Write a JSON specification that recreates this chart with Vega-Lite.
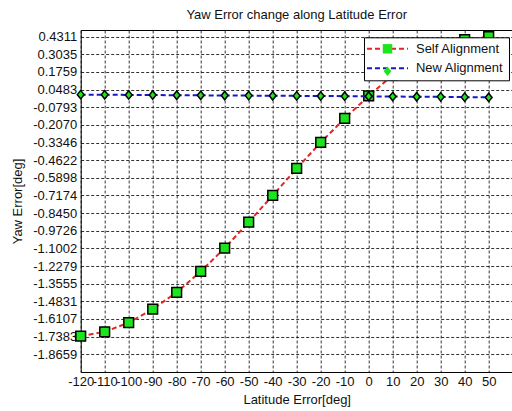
{
  "$schema": "https://vega.github.io/schema/vega-lite/v6.json",
  "width": 432,
  "height": 342,
  "autosize": {"type": "none"},
  "padding": {"left": 80.7, "top": 30, "right": 0, "bottom": 39},
  "background": "white",
  "title": {"text": "Yaw Error change along Latitude Error", "anchor": "middle", "frame": "group", "offset": 7, "fontSize": 13, "fontWeight": "normal", "font": "Liberation Sans", "color": "#111"},
  "data": {"values": [
    {"lat": -120, "yaw": -1.735, "series": "Self Alignment"},
    {"lat": -110, "yaw": -1.703, "series": "Self Alignment"},
    {"lat": -100, "yaw": -1.637, "series": "Self Alignment"},
    {"lat": -90, "yaw": -1.540, "series": "Self Alignment"},
    {"lat": -80, "yaw": -1.418, "series": "Self Alignment"},
    {"lat": -70, "yaw": -1.267, "series": "Self Alignment"},
    {"lat": -60, "yaw": -1.098, "series": "Self Alignment"},
    {"lat": -50, "yaw": -0.910, "series": "Self Alignment"},
    {"lat": -40, "yaw": -0.717, "series": "Self Alignment"},
    {"lat": -30, "yaw": -0.522, "series": "Self Alignment"},
    {"lat": -20, "yaw": -0.334, "series": "Self Alignment"},
    {"lat": -10, "yaw": -0.160, "series": "Self Alignment"},
    {"lat": 0, "yaw": 0.003, "series": "Self Alignment"},
    {"lat": 10, "yaw": 0.152, "series": "Self Alignment"},
    {"lat": 20, "yaw": 0.275, "series": "Self Alignment"},
    {"lat": 30, "yaw": 0.360, "series": "Self Alignment"},
    {"lat": 40, "yaw": 0.410, "series": "Self Alignment"},
    {"lat": 50, "yaw": 0.431, "series": "Self Alignment"},
    {"lat": -120, "yaw": 0.012, "series": "New Alignment"},
    {"lat": -110, "yaw": 0.011, "series": "New Alignment"},
    {"lat": -100, "yaw": 0.010, "series": "New Alignment"},
    {"lat": -90, "yaw": 0.009, "series": "New Alignment"},
    {"lat": -80, "yaw": 0.008, "series": "New Alignment"},
    {"lat": -70, "yaw": 0.007, "series": "New Alignment"},
    {"lat": -60, "yaw": 0.006, "series": "New Alignment"},
    {"lat": -50, "yaw": 0.005, "series": "New Alignment"},
    {"lat": -40, "yaw": 0.004, "series": "New Alignment"},
    {"lat": -30, "yaw": 0.003, "series": "New Alignment"},
    {"lat": -20, "yaw": 0.002, "series": "New Alignment"},
    {"lat": -10, "yaw": 0.001, "series": "New Alignment"},
    {"lat": 0, "yaw": 0.000, "series": "New Alignment"},
    {"lat": 10, "yaw": -0.002, "series": "New Alignment"},
    {"lat": 20, "yaw": -0.003, "series": "New Alignment"},
    {"lat": 30, "yaw": -0.004, "series": "New Alignment"},
    {"lat": 40, "yaw": -0.006, "series": "New Alignment"},
    {"lat": 50, "yaw": -0.008, "series": "New Alignment"}
  ]},
  "encoding": {
    "x": {
      "field": "lat", "type": "quantitative",
      "scale": {"domain": [-120, 60], "nice": false, "zero": false},
      "title": "Latitude Error[deg]",
      "axis": {
        "values": [-120, -110, -100, -90, -80, -70, -60, -50, -40, -30, -20, -10, 0, 10, 20, 30, 40, 50],
        "labelExpr": "(datum.value < 0 ? '-' : '') + format(abs(datum.value), 'd')",
        "labelOverlap": false, "labelFlush": false, "labelBound": false,
        "ticks": false, "domain": false,
        "grid": true, "gridDash": [3, 2], "gridColor": "#000", "gridWidth": 1, "gridOpacity": 0.8,
        "labelPadding": 4, "titlePadding": 5
      }
    },
    "y": {
      "field": "yaw", "type": "quantitative",
      "scale": {"domain": [-1.994, 0.4795], "nice": false, "zero": false},
      "title": "Yaw Error[deg]",
      "axis": {
        "values": [0.4311, 0.3035, 0.1759, 0.0483, -0.0793, -0.2070, -0.3346, -0.4622, -0.5898, -0.7174, -0.8450, -0.9726, -1.1002, -1.2279, -1.3555, -1.4831, -1.6107, -1.7383, -1.8659],
        "labelExpr": "(datum.value < 0 ? '-' : '') + format(abs(datum.value), '.4f')",
        "labelOverlap": false, "labelFlush": false, "labelBound": false,
        "ticks": false, "domain": false,
        "grid": true, "gridDash": [3, 2], "gridColor": "#000", "gridWidth": 1, "gridOpacity": 0.8,
        "labelPadding": 4, "titlePadding": 8
      }
    }
  },
  "layer": [
    {
      "transform": [{"filter": "datum.series === 'Self Alignment'"}],
      "mark": {"type": "line", "strokeWidth": 2, "strokeDash": [5, 3]},
      "encoding": {
        "color": {
          "field": "series", "type": "nominal",
          "scale": {"domain": ["Self Alignment", "New Alignment"], "range": ["#e02626", "#1818c8"]},
          "legend": {
            "orient": "none", "legendX": 283.3, "legendY": 7.3, "title": null,
            "symbolType": "M-4.1,0H4.1", "symbolSize": 100, "symbolStrokeWidth": 2, "symbolDash": [5, 3],
            "symbolFillColor": "transparent",
            "symbolOffset": 12, "labelOffset": 22,
            "labelFontSize": 13, "labelFont": "Liberation Sans", "labelColor": "#111",
            "padding": 5, "rowPadding": 5.4,
            "fillColor": "white", "strokeColor": "#000", "zindex": 1
          }
        }
      }
    },
    {
      "transform": [{"filter": "datum.series === 'Self Alignment'"}],
      "mark": {"type": "point", "filled": true, "fill": "#1de51d", "stroke": "#000", "strokeWidth": 1.5, "size": 95, "opacity": 1},
      "encoding": {
        "shape": {
          "field": "series", "type": "nominal", "sort": ["Self Alignment", "New Alignment"],
          "scale": {"range": ["square", "M0,-1L0.8,0L0,1L-0.8,0Z"]},
          "legend": {
            "orient": "none", "legendX": 283.3, "legendY": 7.3, "title": null,
            "symbolSize": 90, "symbolFillColor": "#1de51d", "symbolStrokeColor": "#000", "symbolStrokeWidth": 1.5,
            "symbolOffset": 12, "labelOffset": 22,
            "labelFontSize": 13, "labelFont": "Liberation Sans", "labelOpacity": 0,
            "padding": 5, "rowPadding": 5.4, "zindex": 2
          }
        }
      }
    },
    {
      "transform": [{"filter": "datum.series === 'New Alignment'"}],
      "mark": {"type": "line", "strokeWidth": 2, "strokeDash": [5, 3]},
      "encoding": {
        "color": {"field": "series", "type": "nominal"}
      }
    },
    {
      "transform": [{"filter": "datum.series === 'New Alignment'"}],
      "mark": {"type": "point", "filled": true, "fill": "#1de51d", "stroke": "#000", "strokeWidth": 1.5, "size": 72, "opacity": 1},
      "encoding": {
        "shape": {"field": "series", "type": "nominal", "sort": ["Self Alignment", "New Alignment"]}
      }
    }
  ],
  "config": {
    "view": {"stroke": "#000", "strokeWidth": 1},
    "axis": {"labelFont": "Liberation Sans", "labelFontSize": 13, "labelColor": "#111", "titleFont": "Liberation Sans", "titleFontSize": 13, "titleFontWeight": "normal", "titleColor": "#111"}
  }
}
